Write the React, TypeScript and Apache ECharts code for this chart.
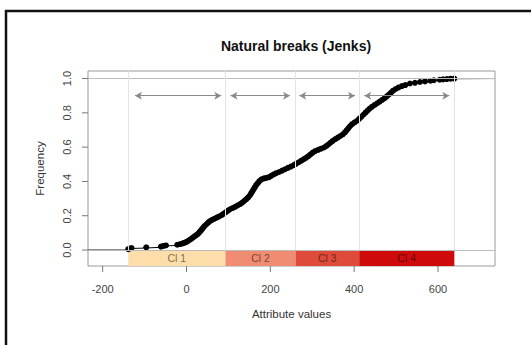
import React, { useEffect, useRef } from "react";
import * as echarts from "echarts";

const TITLE = "Natural breaks (Jenks)";
const X_NAME = "Attribute values";
const Y_NAME = "Frequency";

const X_MIN = -235;
const X_MAX = 736;
const Y_MIN = -0.093;
const Y_MAX = 1.044;

const X_TICKS = [-200, 0, 200, 400, 600];
const Y_TICKS = [0, 0.2, 0.4, 0.6, 0.8, 1.0];

const CLASS_NAMES = ["Cl 1", "Cl 2", "Cl 3", "Cl 4"];
const CLASS_BREAKS = [-139, 93, 260, 412, 639];
const CLASS_COLORS = ["#FDDDAA", "#F08C72", "#DE4B3A", "#CF0A0A"];

const ARROW_FROM = [-123, 105, 269, 424];
const ARROW_TO = [83, 247, 402, 627];
const ARROW_Y = 0.9;

const ECDF_X = [
  -139, -135, -131, -96, -61, -55, -49, -22, -15, -9, -4, 0, 4, 8, 12, 16, 20, 24, 28, 31,
  34, 37, 40, 43, 47, 51, 55, 60, 66, 72, 78, 84, 89, 94, 99, 104, 110, 116, 122, 128,
  133, 138, 143, 147, 151, 154, 157, 160, 163, 166, 170, 174, 179, 185, 191, 197, 202, 208, 214, 221,
  228, 235, 242, 249, 256, 262, 268, 274, 280, 286, 291, 296, 301, 307, 314, 321, 328, 334, 339, 344,
  349, 355, 361, 367, 373, 378, 382, 386, 390, 395, 401, 407, 412, 417, 422, 427, 432, 437, 443, 449,
  455, 461, 467, 473, 478, 483, 488, 493, 499, 506, 514, 522, 533, 545, 557, 569, 582, 590, 604, 612,
  621, 630, 639,
];
const ECDF_Y = [
  0.005, 0.009, 0.012, 0.016, 0.02, 0.024, 0.027, 0.031, 0.035, 0.039, 0.043, 0.048, 0.054, 0.06, 0.067, 0.074, 0.081, 0.088, 0.096, 0.104,
  0.113, 0.122, 0.131, 0.14, 0.149, 0.158, 0.167, 0.175, 0.182, 0.189, 0.196, 0.204, 0.212, 0.221, 0.23, 0.238, 0.245, 0.252, 0.26, 0.268,
  0.277, 0.287, 0.297, 0.307, 0.318, 0.33, 0.342, 0.354, 0.366, 0.378, 0.39, 0.402, 0.412, 0.418, 0.421, 0.425, 0.433, 0.441, 0.448, 0.455,
  0.463, 0.471, 0.479, 0.487, 0.495, 0.504, 0.512, 0.521, 0.53, 0.539, 0.548, 0.558, 0.568, 0.577, 0.584, 0.591, 0.598, 0.607, 0.617, 0.627,
  0.637, 0.647, 0.656, 0.665, 0.675, 0.686, 0.698, 0.71, 0.722, 0.734, 0.744, 0.754, 0.765, 0.777, 0.789, 0.801, 0.813, 0.825, 0.836, 0.846,
  0.856, 0.866, 0.876, 0.886, 0.896, 0.907, 0.918, 0.929, 0.939, 0.948, 0.956, 0.962, 0.971, 0.975, 0.98, 0.983, 0.987, 0.99, 0.993, 0.995,
  0.997, 0.999, 1.0,
];

const FONT = "Liberation Sans, Arial, Helvetica, sans-serif";
const TICK_LEN = 6;
const TICK_COLOR = "#777";

export default function App() {
  const ref = useRef<HTMLDivElement>(null);

  useEffect(() => {
    if (!ref.current) return;
    const chart = echarts.init(ref.current, null, { renderer: "svg" });

    const points = ECDF_X.map((x, i) => [x, ECDF_Y[i]]);
    const stepData = [[X_MIN, 0], [ECDF_X[0], 0], ...points, [X_MAX, 1]];

    const areas = CLASS_NAMES.map((name, i) => [
      {
        name,
        coord: [CLASS_BREAKS[i], 0],
        itemStyle: { color: CLASS_COLORS[i] },
      },
      { coord: [CLASS_BREAKS[i + 1], Y_MIN] },
    ]);

    const vLines = CLASS_BREAKS.map((b) => [
      { coord: [b, 0] },
      { coord: [b, Y_MAX] },
    ]);

    const arrows = ARROW_FROM.map((a, i) => [
      { coord: [a, ARROW_Y] },
      { coord: [ARROW_TO[i], ARROW_Y] },
    ]);

    const frame: any[] = [
      {
        type: "line",
        shape: { x1: 5, y1: 11, x2: 531, y2: 11 },
        style: { stroke: "#111", lineWidth: 2.5 },
      },
      {
        type: "line",
        shape: { x1: 6, y1: 10, x2: 6, y2: 345 },
        style: { stroke: "#111", lineWidth: 2.5 },
      },
    ];

    const option: any = {
      animation: false,
      backgroundColor: "#ffffff",
      textStyle: { fontFamily: FONT },
      title: {
        text: TITLE,
        left: 291,
        top: 34,
        textAlign: "center",
        textStyle: { fontSize: 14, fontWeight: "bold", color: "#111", fontFamily: FONT },
      },
      grid: {
        left: 88,
        top: 71,
        width: 407,
        height: 195,
        show: true,
        borderColor: "#999",
        borderWidth: 1,
        backgroundColor: "transparent",
      },
      xAxis: {
        type: "value",
        min: X_MIN,
        max: X_MAX,
        name: X_NAME,
        nameLocation: "middle",
        nameGap: 42,
        nameTextStyle: { fontSize: 11.5, color: "#333", fontFamily: FONT },
        axisLine: { show: false, onZero: false },
        splitLine: { show: false },
        axisTick: { show: false },
        axisLabel: {
          customValues: X_TICKS,
          fontSize: 11,
          color: "#444",
          margin: 17,
          fontFamily: FONT,
        },
      },
      yAxis: {
        type: "value",
        min: Y_MIN,
        max: Y_MAX,
        name: Y_NAME,
        nameLocation: "middle",
        nameRotate: 90,
        nameGap: 42,
        nameTextStyle: { fontSize: 11.5, color: "#333", fontFamily: FONT },
        axisLine: { show: false, onZero: false },
        splitLine: { show: false },
        axisTick: { show: false },
        axisLabel: {
          customValues: Y_TICKS,
          rotate: 90,
          fontSize: 11,
          color: "#444",
          margin: 16,
          fontFamily: FONT,
          formatter: (v: number) => v.toFixed(1),
        },
      },
      series: [
        {
          type: "line",
          name: "ecdf-step",
          data: stepData,
          step: "end",
          showSymbol: false,
          symbol: "none",
          lineStyle: { color: "#000", width: 1 },
          z: 3,
          silent: true,
          markArea: {
            silent: true,
            data: areas,
            label: {
              show: true,
              position: "inside",
              fontSize: 10.5,
              color: "rgba(0,0,0,0.55)",
              fontFamily: FONT,
            },
          },
          markLine: {
            silent: true,
            symbol: "none",
            label: { show: false },
            lineStyle: { color: "#bbbbbb", width: 1, type: "solid" },
            data: [
              { yAxis: 0 },
              { yAxis: 1 },
              ...vLines.map((l) => [
                { ...l[0], lineStyle: { color: "#e4e4e4", width: 1, type: "solid" } },
                l[1],
              ]),
              ...arrows.map((l) => [
                {
                  ...l[0],
                  symbol: "arrow",
                  symbolSize: [6, 7],
                  lineStyle: { color: "#8a8a8a", width: 1, type: "solid" },
                },
                { ...l[1], symbol: "arrow", symbolSize: [6, 7] },
              ]),
            ],
          },
        },
        {
          type: "scatter",
          name: "ecdf",
          data: points,
          symbol: "circle",
          symbolSize: 6,
          itemStyle: { color: "#000", borderWidth: 0, opacity: 1 },
          z: 4,
          silent: true,
        },
      ],
      graphic: frame,
    };

    chart.setOption(option);

    // axis tick marks placed through the chart's own scales
    const tickEls: any[] = [];
    X_TICKS.forEach((v) => {
      const p = chart.convertToPixel({ gridIndex: 0 }, [v, Y_MIN]) as number[];
      if (p && isFinite(p[0]) && isFinite(p[1])) {
        tickEls.push({
          type: "line",
          silent: true,
          shape: { x1: p[0], y1: p[1], x2: p[0], y2: p[1] + TICK_LEN },
          style: { stroke: TICK_COLOR, lineWidth: 1 },
        });
      }
    });
    Y_TICKS.forEach((v) => {
      const p = chart.convertToPixel({ gridIndex: 0 }, [X_MIN, v]) as number[];
      if (p && isFinite(p[0]) && isFinite(p[1])) {
        tickEls.push({
          type: "line",
          silent: true,
          shape: { x1: p[0], y1: p[1], x2: p[0] - TICK_LEN, y2: p[1] },
          style: { stroke: TICK_COLOR, lineWidth: 1 },
        });
      }
    });
    chart.setOption({ graphic: [...frame, ...tickEls] });

    return () => chart.dispose();
  }, []);

  return (
    <div
      ref={ref}
      style={{ position: "absolute", left: 0, top: 0, width: 531, height: 345 }}
    />
  );
}
